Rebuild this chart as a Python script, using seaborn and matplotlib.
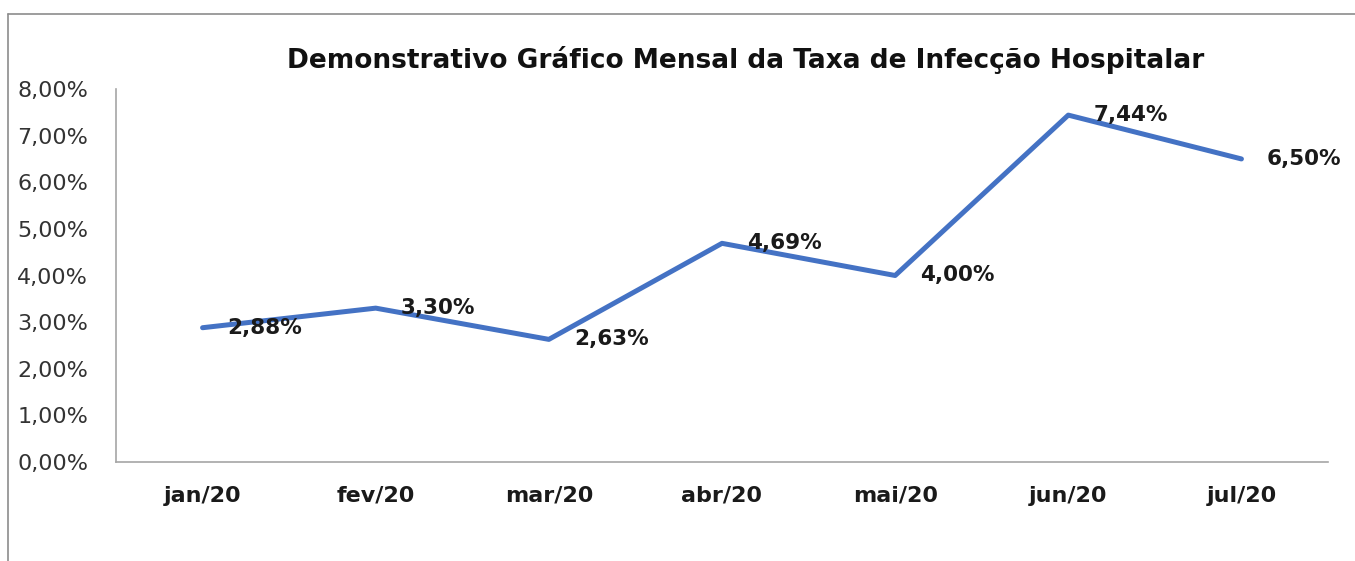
import matplotlib
matplotlib.use("Agg")
import matplotlib.pyplot as plt
from matplotlib.lines import Line2D
from matplotlib.ticker import FixedLocator, NullFormatter
import seaborn as sns
import pandas as pd

sns.set_style("white")
plt.rcParams['font.family'] = ['DejaVu Sans']

meses = ['jan/20', 'fev/20', 'mar/20', 'abr/20', 'mai/20', 'jun/20', 'jul/20']
taxas = [2.88, 3.30, 2.63, 4.69, 4.00, 7.44, 6.50]
rotulos = ['2,88%', '3,30%', '2,63%', '4,69%', '4,00%', '7,44%', '6,50%']
yticks = [0, 1, 2, 3, 4, 5, 6, 7, 8]
ytick_labels = ['0,00%', '1,00%', '2,00%', '3,00%', '4,00%', '5,00%', '6,00%', '7,00%', '8,00%']
titulo = 'Demonstrativo Gráfico Mensal da Taxa de Infecção Hospitalar'

df = pd.DataFrame({'mes': meses, 'taxa': taxas})

fig = plt.figure(figsize=(13.55, 5.61), dpi=100)
ax = fig.add_axes([116 / 1355, 99 / 561, (1328 - 116) / 1355, (462 - 89) / 561])

sns.lineplot(data=df, x='mes', y='taxa', ax=ax, color='#4472C4', linewidth=3.6, sort=False)

for i, (v, r) in enumerate(zip(taxas, rotulos)):
    ax.annotate(r, (i, v), xytext=(18, 0), textcoords='offset points',
                ha='left', va='center', fontsize=15.5, fontweight='bold', color='#1a1a1a')

ax.set_xlim(-0.5, len(meses) - 0.5)
ax.set_ylim(0, 8)
ax.set_yticks(yticks)
ax.set_yticklabels(ytick_labels, fontsize=16, color='#333333')
ax.set_xticks(range(len(meses)))
ax.set_xticklabels(meses, fontsize=16, fontweight='bold', color='#1a1a1a')
ax.xaxis.set_minor_locator(FixedLocator([i - 0.5 for i in range(len(meses) + 1)]))
ax.xaxis.set_minor_formatter(NullFormatter())
ax.tick_params(axis='x', which='major', length=0, pad=17)
ax.tick_params(axis='x', which='minor', length=5, width=1, color='#A6A6A6', direction='out')
ax.tick_params(axis='y', length=8, width=1, color='#A6A6A6', direction='out', pad=12)
ax.set_xlabel('')
ax.set_ylabel('')

for s in ['top', 'right']:
    ax.spines[s].set_visible(False)
for s in ['left', 'bottom']:
    ax.spines[s].set_color('#A6A6A6')
    ax.spines[s].set_linewidth(1.2)

fig.text(746 / 1355, 1 - 60 / 561, titulo, ha='center', va='center',
         fontsize=19, fontweight='bold', color='#111111')

# moldura do gráfico
fig.add_artist(Line2D([8 / 1355, 8 / 1355], [0, 1 - 14 / 561], transform=fig.transFigure,
                      color='#8C8C8C', linewidth=1.2))
fig.add_artist(Line2D([8 / 1355, 1], [1 - 14 / 561, 1 - 14 / 561], transform=fig.transFigure,
                      color='#8C8C8C', linewidth=1.2))

fig.savefig('out.png', dpi=100, facecolor='white')
